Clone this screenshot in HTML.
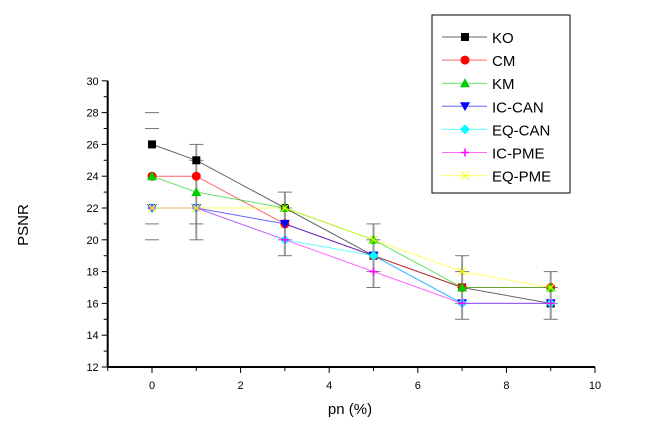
<!DOCTYPE html>
<html><head><meta charset="utf-8"><style>
body{margin:0;background:#fff;font-family:"Liberation Sans",Arial,sans-serif}
</style></head><body>
<svg id="c" width="649" height="440" xmlns="http://www.w3.org/2000/svg"></svg>
<script>
const xs=[0,1,3,5,7,9];
const names=["KO","CM","KM","IC-CAN","EQ-CAN","IC-PME","EQ-PME"];
const colors=["#000","#f00","#0c0","#00f","#0ff","#f0f","#ff0"];
const ko=[26,25,22,19,17,16];
const cm=[24,24,21,19,17,17];
const km=[24,23,22,20,17,17];
const iccan=[22,22,21,19,16,16];
const eqcan=[22,22,20,19,16,16];
const icpme=[22,22,20,18,16,16];
const eqpme=[22,22,22,20,18,17];
const errLow=[20,20,19,17,15,15];
const errHigh=[28,26,23,21,19,18];
const xTicks=[0,2,4,6,8,10];
const yTicks=[12,14,16,18,20,22,24,26,28,30];
const series=[ko,cm,km,iccan,eqcan,icpme,eqpme];
const X=v=>152+44.3*v, Y=v=>367-(v-12)*15.9;
const svg=document.getElementById('c'),NS="http://www.w3.org/2000/svg";
function el(t,a,p){const e=document.createElementNS(NS,t);for(const k in a)e.setAttribute(k,a[k]);(p||svg).appendChild(e);return e;}
// error bars
xs.forEach((x,i)=>{const g=el('g',{});


if(i>0)el('line',{x1:X(x),x2:X(x),y1:Y(errLow[i]),y2:Y(errHigh[i]),stroke:'#999','stroke-width':2},g);
[errLow[i],errHigh[i],errLow[i]+1,errHigh[i]-1].forEach(v=>el('line',{x1:X(x)-7,x2:X(x)+7,y1:Y(v),y2:Y(v),stroke:'#777','stroke-width':1},g));});
function marker(i,cx,cy,g){const c=colors[i];
if(i==0)el('rect',{x:cx-4,y:cy-4,width:8,height:8,fill:c},g);
else if(i==1)el('circle',{cx,cy,r:4.5,fill:c},g);
else if(i==2)el('path',{d:`M${cx},${cy-5}L${cx+5},${cy+4}L${cx-5},${cy+4}Z`,fill:c},g);
else if(i==3)el('path',{d:`M${cx-5},${cy-4}L${cx+5},${cy-4}L${cx},${cy+5}Z`,fill:c},g);
else if(i==4)el('path',{d:`M${cx},${cy-5}L${cx+5},${cy}L${cx},${cy+5}L${cx-5},${cy}Z`,fill:c},g);
else if(i==5)el('path',{d:`M${cx-4},${cy}H${cx+4}M${cx},${cy-4}V${cy+4}`,stroke:c,'stroke-width':1.5},g);
else el('path',{d:`M${cx-4},${cy-4}L${cx+4},${cy+4}M${cx+4},${cy-4}L${cx-4},${cy+4}`,stroke:c,'stroke-width':1},g);}
series.forEach((s,i)=>{const g=el('g',{});


el('polyline',{points:s.map((v,j)=>X(xs[j])+','+Y(v)).join(' '),fill:'none',stroke:i==0?'#666':colors[i],'stroke-width':1,opacity:i==0?1:0.6},g);
s.forEach((v,j)=>marker(i,X(xs[j]),Y(v),g));});
// axes
const ax=el('g',{});


el('line',{x1:X(-1),x2:X(10),y1:367,y2:367,stroke:'#000','stroke-width':2},ax);
el('line',{x1:X(-1),x2:X(-1),y1:367,y2:Y(30),stroke:'#000','stroke-width':2},ax);
for(let v=-1;v<=10;v++)el('line',{x1:X(v),x2:X(v),y1:367,y2:v%2==0?373:371,stroke:'#000'},ax);
xTicks.forEach(v=>{const t=el('text',{x:X(v),y:389,'text-anchor':'middle','font-size':11},ax);t.textContent=v;});
for(let v=12;v<=30;v++)el('line',{x1:X(-1),x2:X(-1)-(v%2==0?6:4),y1:Y(v),y2:Y(v),stroke:'#000'},ax);
yTicks.forEach(v=>{const t=el('text',{x:X(-1)-9,y:Y(v)+4,'text-anchor':'end','font-size':11},ax);t.textContent=v;});
const xt=el('text',{x:350,y:414,'text-anchor':'middle','font-size':15});xt.textContent='pn (%)';

const yt=el('text',{x:28,y:225,'text-anchor':'middle','font-size':15,transform:'rotate(-90 28 225)'});yt.textContent='PSNR';

// legend
const lg=el('g',{});


el('rect',{x:432,y:15,width:138,height:178,fill:'#fff',stroke:'#000'},lg);
names.forEach((n,i)=>{const y=37+i*23.1;const g=el('g',{},lg);


el('line',{x1:442,x2:487,y1:y,y2:y,stroke:i==0?'#666':colors[i],opacity:i==0?1:0.6},g);
marker(i,465,y,g);
const t=el('text',{x:492,y:y+6,'font-size':15},g);t.textContent=n;});
</script>
</body></html>
